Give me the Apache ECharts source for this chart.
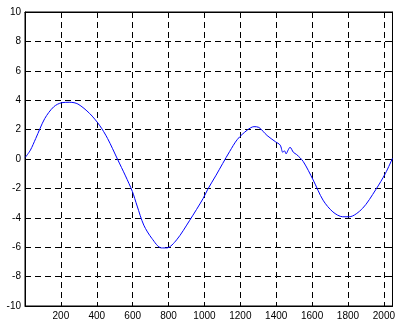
<!DOCTYPE html>
<html>
<head>
<meta charset="utf-8">
<script src="https://cdn.jsdelivr.net/npm/echarts@6/dist/echarts.min.js"></script>
<style>
  html, body { margin: 0; padding: 0; background: #fff; }
  #chart { width: 398px; height: 324px; }
</style>
</head>
<body>
<div id="chart"></div>
<script>
// sample positions and signal values
var sampleX = [1, 30, 60, 110, 160, 205, 250, 295, 360, 415, 460, 515, 560, 598, 625, 662, 707, 760, 790, 845,
  918, 992, 1019, 1065, 1102, 1140, 1184, 1239, 1276, 1303, 1349, 1395, 1422, 1437, 1446, 1455, 1466, 1477,
  1496, 1514, 1551, 1606, 1661, 1716, 1771, 1807, 1881, 1954, 2009, 2048];
var sampleY = [0.1, 0.6, 1.4, 2.75, 3.55, 3.83, 3.86, 3.74, 3.1, 2.3, 1.4, 0.0, -1.15, -2.2, -3.2, -4.5, -5.4, -6.05, -6.05, -5.5,
  -4.17, -2.7, -2.05, -1.1, -0.3, 0.5, 1.34, 1.97, 2.2, 2.15, 1.6, 1.18, 0.95, 0.45, 0.56, 0.35, 0.6, 0.8,
  0.45, 0.3, -0.18, -1.43, -2.8, -3.6, -3.93, -3.93, -3.36, -2.1, -0.97, 0.05];
var xTicks = [200, 400, 600, 800, 1000, 1200, 1400, 1600, 1800, 2000];
var yTicks = [-10, -8, -6, -4, -2, 0, 2, 4, 6, 8, 10];

var points = sampleX.map(function (x, i) { return [x, sampleY[i]]; });

var chart = echarts.init(document.getElementById('chart'));

var gridDash = { show: true, lineStyle: { color: '#000', width: 1, type: [6, 4] } };
var labelFont = { color: '#000', fontSize: 10, fontFamily: 'Liberation Sans, Arial, sans-serif' };

chart.setOption({
  animation: false,
  grid: {
    left: 25, top: 12, right: 1, bottom: 18,
    show: true, borderColor: '#000', borderWidth: 1
  },
  xAxis: [{
    type: 'value', min: 0, max: 2048, interval: 200,
    axisLine: { show: true, onZero: false, lineStyle: { color: '#000' } },
    axisTick: { show: true, inside: true, length: 4, lineStyle: { color: '#000' } },
    axisLabel: Object.assign({
      margin: 5,
      formatter: function (v) { return xTicks.indexOf(v) >= 0 ? String(v) : ''; }
    }, labelFont),
    splitLine: gridDash
  }, {
    type: 'value', min: 0, max: 2048, interval: 200, position: 'top',
    axisLine: { show: true, onZero: false, lineStyle: { color: '#000' } },
    axisTick: { show: true, inside: true, length: 4, lineStyle: { color: '#000' } },
    axisLabel: { show: false },
    splitLine: { show: false }
  }],
  yAxis: [{
    type: 'value', min: -10, max: 10, interval: 2,
    axisLine: { show: true, onZero: false, lineStyle: { color: '#000' } },
    axisTick: { show: true, inside: true, length: 4, lineStyle: { color: '#000' } },
    axisLabel: Object.assign({
      margin: 4,
      formatter: function (v) { return yTicks.indexOf(v) >= 0 ? String(v) : ''; }
    }, labelFont),
    splitLine: gridDash
  }, {
    type: 'value', min: -10, max: 10, interval: 2, position: 'right',
    axisLine: { show: true, onZero: false, lineStyle: { color: '#000' } },
    axisTick: { show: true, inside: true, length: 4, lineStyle: { color: '#000' } },
    axisLabel: { show: false },
    splitLine: { show: false }
  }],
  series: [{
    type: 'line',
    data: points,
    showSymbol: false,
    smooth: 0.3,
    lineStyle: { color: '#0000ff', width: 1 },
    itemStyle: { color: '#0000ff' }
  }]
});
</script>
</body>
</html>
